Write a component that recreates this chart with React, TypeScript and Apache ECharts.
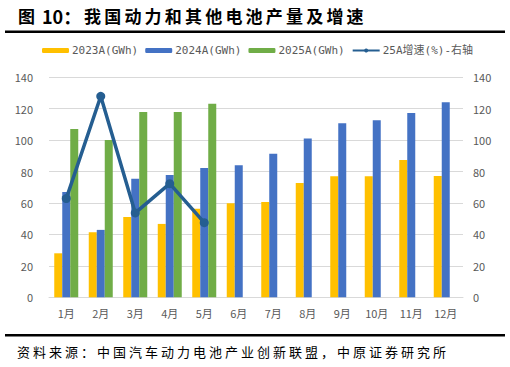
import React, { useEffect, useRef } from "react";
import * as echarts from "echarts";

const months = ["1月", "2月", "3月", "4月", "5月", "6月", "7月", "8月", "9月", "10月", "11月", "12月"];
const s2023 = [28.0, 41.4, 51.1, 46.7, 56.4, 59.8, 60.7, 72.8, 77.0, 77.0, 87.4, 77.2];
const s2024 = [67.0, 42.9, 75.5, 77.9, 82.3, 84.0, 91.4, 101.0, 110.7, 112.6, 117.3, 124.1];
const s2025 = [107.1, 100.1, 117.9, 117.9, 123.2, null, null, null, null, null, null, null];
const growth25 = [62.8, 127.9, 53.7, 72.3, 47.5, null, null, null, null, null, null, null];
const seriesNames = ["2023A(GWh)", "2024A(GWh)", "2025A(GWh)", "25A增速(%)-右轴"];
const titleBody = "我国动力和其他电池产量及增速";
const sourceText = "资料来源：中国汽车动力电池产业创新联盟，中原证券研究所";

const CJK = '"Microsoft YaHei", "Noto Sans CJK SC", sans-serif';
const MONO = '"DejaVu Sans Mono", "Noto Sans CJK SC", monospace';

function spacedText(str: string, x0: number, y: number, pitch: number, style: any) {
  return Array.from(str).map((ch, i) => ({
    type: "text",
    x: x0 + i * pitch,
    y,
    style: { text: ch, verticalAlign: "middle", align: "left", ...style },
  }));
}

export default function App() {
  const ref = useRef<HTMLDivElement>(null);
  useEffect(() => {
    if (!ref.current) return;
    const chart = echarts.init(ref.current, null, { renderer: "svg" });
    const titleStyle = { font: `bold 17px ${CJK}`, fill: "#000" };
    const srcStyle = { font: `13px ${CJK}`, fill: "#000" };
    chart.setOption({
      animation: false,
      backgroundColor: "#fff",
      graphic: [
        { type: "text", x: 18, y: 15.5, style: { text: "图", verticalAlign: "middle", ...titleStyle } },
        { type: "text", x: 42, y: 15.5, style: { text: "10：", verticalAlign: "middle", font: `bold 18px ${CJK}`, fill: "#000" } },
        ...spacedText(titleBody, 84, 15.5, 20.2, titleStyle),
        { type: "rect", shape: { x: 5, y: 30.5, width: 500, height: 2.5 }, style: { fill: "#000" } },
        { type: "rect", shape: { x: 5, y: 334, width: 500, height: 2.5 }, style: { fill: "#000" } },
        ...spacedText(sourceText, 17, 351.5, 16, srcStyle),
      ],
      legend: {
        left: 37,
        top: 40,
        itemGap: 7,
        itemWidth: 27,
        itemHeight: 5,
        textStyle: { color: "#595959", fontSize: 11, fontFamily: MONO, padding: [0, 0, 0, -2] },
        data: seriesNames,
      },
      grid: { left: 49, right: 47, top: 77.3, bottom: 69.7, containLabel: false },
      xAxis: {
        type: "category",
        data: months,
        axisLine: { lineStyle: { color: "#d9d9d9" } },
        axisTick: { show: false },
        axisLabel: { color: "#595959", fontSize: 11, fontFamily: CJK, margin: 10 },
      },
      yAxis: [
        {
          type: "value",
          min: 0,
          max: 140,
          interval: 20,
          axisLabel: { color: "#595959", fontSize: 11, fontFamily: CJK, margin: 16 },
          splitLine: { lineStyle: { color: "#d9d9d9" } },
          axisLine: { show: false },
          axisTick: { show: false },
        },
        {
          type: "value",
          min: 0,
          max: 140,
          interval: 20,
          position: "right",
          axisLabel: { color: "#595959", fontSize: 11, fontFamily: CJK, margin: 10 },
          splitLine: { show: false },
          axisLine: { show: false },
          axisTick: { show: false },
        },
      ],
      series: [
        { name: seriesNames[0], type: "bar", data: s2023, barWidth: 8, barGap: "0%", itemStyle: { color: "#FFC000" } },
        { name: seriesNames[1], type: "bar", data: s2024, barWidth: 8, barGap: "0%", itemStyle: { color: "#4472C4" } },
        { name: seriesNames[2], type: "bar", data: s2025, barWidth: 8, barGap: "0%", itemStyle: { color: "#70AD47" } },
        {
          name: seriesNames[3],
          type: "line",
          yAxisIndex: 1,
          data: growth25,
          symbol: "circle",
          symbolSize: 9,
          lineStyle: { color: "#255E91", width: 3.5 },
          itemStyle: { color: "#255E91" },
          z: 5,
        },
      ],
    });
    return () => chart.dispose();
  }, []);
  return <div ref={ref} style={{ position: "fixed", left: 0, top: 0, width: 510, height: 367 }} />;
}
